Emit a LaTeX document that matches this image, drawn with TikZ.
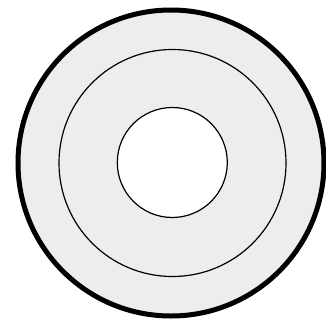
\documentclass[tikz,border=0pt]{standalone}
\usepackage{tikz}
\usepackage{xcolor}

\definecolor{ringgray}{gray}{0.93}

\begin{document}
\begin{tikzpicture}[x=1pt,y=-1pt,
    ringline/.style={draw=black,line width=1.2pt}]
  \useasboundingbox (0,0) rectangle (325,327);
  % outer disc and rings
  \draw[fill=ringgray,draw=black,line width=5pt] (171,163) circle (153);
  \draw[ringline] (172.5,163) circle (113.5);
  \draw[ringline,fill=white] (172.3,162.5) circle (55);
\end{tikzpicture}
\end{document}
